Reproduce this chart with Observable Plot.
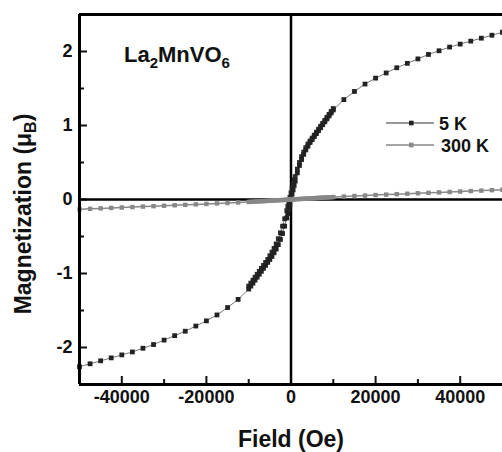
<!DOCTYPE html>
<html><head><meta charset="utf-8">
<script src="https://cdn.jsdelivr.net/npm/d3@7"></script>
<script src="https://cdn.jsdelivr.net/npm/@observablehq/plot@0.6"></script>
<style>
body{margin:0;background:#fff;}
#wrap{position:relative;width:502px;height:452px;font-family:"Liberation Sans",Arial,sans-serif;font-weight:bold;color:#111;overflow:hidden;}
.ov{position:absolute;white-space:nowrap;line-height:1;}
</style></head><body><div id="wrap"></div>
<script>
const field = [-50000,-47500,-45000,-42500,-40000,-37500,-35000,-32500,-30000,-27500,-25000,-22500,-20000,-17500,-15000,-12500,
  -10000,-9500,-9000,-8500,-8000,-7500,-7000,-6500,-6000,-5500,-5000,-4500,-4000,-3500,-3000,-2500,-2000,-1500,-1000,-750,-500,-250,
  0,250,500,750,1000,1500,2000,2500,3000,3500,4000,4500,5000,5500,6000,6500,7000,7500,8000,8500,9000,9500,10000,
  12500,15000,17500,20000,22500,25000,27500,30000,32500,35000,37500,40000,42500,45000,47500,50000];
const m5K = [-2.26,-2.22,-2.18,-2.14,-2.10,-2.06,-2.01,-1.96,-1.90,-1.84,-1.78,-1.71,-1.64,-1.56,-1.46,-1.35,
  -1.21,-1.17,-1.13,-1.09,-1.05,-1.01,-0.97,-0.93,-0.89,-0.85,-0.81,-0.77,-0.72,-0.67,-0.61,-0.54,-0.46,-0.36,-0.25,-0.19,-0.13,-0.07,
  0,0.07,0.13,0.19,0.25,0.36,0.46,0.54,0.61,0.67,0.72,0.77,0.81,0.85,0.89,0.93,0.97,1.01,1.05,1.09,1.13,1.17,1.21,
  1.35,1.46,1.56,1.64,1.71,1.78,1.84,1.90,1.96,2.01,2.06,2.10,2.14,2.18,2.22,2.26];
// 5 K return branch, low-field part
const fieldReturn = [-10000,-9500,-9000,-8500,-8000,-7500,-7000,-6500,-6000,-5500,-5000,-4500,-4000,-3500,-3000,-2500,-2000,-1500,-1000,-750,-500,-250,
  0,250,500,750,1000,1500,2000,2500,3000,3500,4000,4500,5000,5500,6000,6500,7000,7500,8000,8500,9000,9500,10000];
const m5KReturn = [-1.17,-1.13,-1.09,-1.05,-1.01,-0.97,-0.93,-0.89,-0.85,-0.81,-0.76,-0.71,-0.66,-0.60,-0.53,-0.45,-0.36,-0.26,-0.15,-0.09,-0.03,0.03,
  0.09,0.15,0.21,0.27,0.31,0.41,0.50,0.58,0.64,0.70,0.75,0.79,0.83,0.87,0.91,0.95,0.99,1.03,1.07,1.11,1.15,1.19,1.23];
const m300K = [-0.132,-0.126,-0.12,-0.114,-0.108,-0.102,-0.096,-0.09,-0.084,-0.078,-0.072,-0.066,-0.06,-0.053,-0.047,-0.04,
  -0.033,-0.031,-0.03,-0.028,-0.026,-0.025,-0.023,-0.022,-0.02,-0.018,-0.017,-0.015,-0.013,-0.012,-0.01,-0.008,-0.007,-0.005,-0.004,-0.003,-0.002,-0.001,
  0,0.001,0.002,0.003,0.004,0.005,0.007,0.008,0.01,0.012,0.013,0.015,0.017,0.018,0.02,0.022,0.023,0.025,0.026,0.028,0.03,0.031,0.033,
  0.04,0.047,0.053,0.06,0.066,0.072,0.078,0.084,0.09,0.096,0.102,0.108,0.114,0.12,0.126,0.132];
const xMajorTicks = [-40000,-20000,0,20000,40000];
const xMinorTicks = [-30000,-10000,10000,30000];
const yMajorTicks = [-2,-1,0,1,2];
const yMinorTicks = [-1.5,-0.5,0.5,1.5];
const seriesNames = ["5 K","300 K"];
const compound = ["La","2","MnVO","6"];

const d5 = field.map((f,i)=>({f, m:m5K[i]}));
const d5r = fieldReturn.map((f,i)=>({f, m:m5KReturn[i]}));
const d300 = field.map((f,i)=>({f, m:m300K[i]}));

const chart = Plot.plot({
  width: 502, height: 452,
  marginLeft: 79, marginRight: 0, marginTop: 14, marginBottom: 68,
  style: {fontFamily: '"Liberation Sans", Arial, sans-serif', fontWeight: "bold", fontSize: "18px", background: "#fff", color: "#111", overflow: "visible"},
  x: {domain: [-50000, 50000]},
  y: {domain: [-2.5, 2.5]},
  marks: [
    Plot.axisX(xMajorTicks, {tickSize: -8, tickPadding: 14, tickFormat: d => String(d), label: null, strokeWidth: 2}),
    Plot.axisX(xMinorTicks, {tickSize: -5, tickFormat: () => "", label: null, strokeWidth: 2}),
    Plot.axisY(yMajorTicks, {tickSize: -8, tickPadding: 15, tickFormat: d => String(d), label: null, strokeWidth: 2}),
    Plot.axisY(yMinorTicks, {tickSize: -5, tickFormat: () => "", label: null, strokeWidth: 2}),
    Plot.ruleX([0], {stroke: "#000", strokeWidth: 2.5}),
    Plot.ruleY([0], {stroke: "#000", strokeWidth: 2.5}),
    Plot.line(d5, {x: "f", y: "m", stroke: "#777", strokeWidth: 1}),
    Plot.line(d5r, {x: "f", y: "m", stroke: "#777", strokeWidth: 1}),
    Plot.dot(d5r, {x: "f", y: "m", symbol: "square", r: 2.7, fill: "#2a2a2a", stroke: "none"}),
    Plot.dot(d5, {x: "f", y: "m", symbol: "square", r: 2.7, fill: "#222", stroke: "none"}),
    Plot.line(d300, {x: "f", y: "m", stroke: "#888", strokeWidth: 1.5}),
    Plot.dot(d300, {x: "f", y: "m", symbol: "square", r: 2.5, fill: "#888", stroke: "none"}),
    Plot.ruleX([-50000], {stroke: "#000", strokeWidth: 3}),
    Plot.ruleY([-2.5, 2.5], {stroke: "#000", strokeWidth: 3})
  ]
});
const wrap = document.getElementById("wrap");
wrap.appendChild(chart);

function ov(html, css){const d=document.createElement("div");d.className="ov";d.innerHTML=html;Object.assign(d.style,css);wrap.appendChild(d);return d;}
ov(`${compound[0]}<sub style="font-size:15px;vertical-align:-6px">${compound[1]}</sub>${compound[2]}<sub style="font-size:15px;vertical-align:-6px">${compound[3]}</sub>`, {left:"124px", top:"44px", fontSize:"22px"});
ov(`Field (Oe)`, {left:"291px", top:"428px", fontSize:"23px", transform:"translateX(-50%)"});
ov(`Magnetization (μ<sub style="font-size:16px;vertical-align:-5px">B</sub>)`, {left:"25px", top:"214px", fontSize:"23px", transform:"translate(-50%,-50%) rotate(-90deg)"});
// legend
const leg = [["#222","#777",123], ["#888","#888",145]];
seriesNames.forEach((n,i)=>{
  const [mc, lc, y] = leg[i];
  ov(`<svg width="50" height="8" style="display:block"><line x1="0" y1="4" x2="48" y2="4" stroke="${lc}" stroke-width="1.3"/><rect x="23" y="1.7" width="4.6" height="4.6" fill="${mc}"/></svg>`, {left:"386px", top:(y-4)+"px"});
  ov(n, {left: (i===0?"439px":"441px"), top:(y-8)+"px", fontSize:"18px"});
});
</script></body></html>
